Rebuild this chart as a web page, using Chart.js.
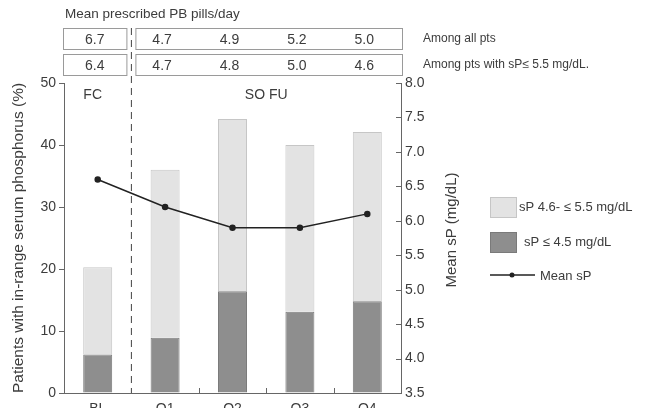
<!DOCTYPE html>
<html>
<head>
<meta charset="utf-8">
<script src="https://cdn.jsdelivr.net/npm/chart.js@4.4.1/dist/chart.umd.min.js"></script>
<style>
  body { margin: 0; background: #fff; }
  canvas { display: block; }
</style>
</head>
<body>
<canvas id="chart" width="646" height="408"></canvas>
<script>
// data
const periods = ["BL", "Q1", "Q2", "Q3", "Q4"];
const lowSP = [6.2, 8.9, 16.4, 13.1, 14.8];          // sP <= 4.5 mg/dL
const midSP = [14.1, 27.1, 27.8, 26.9, 27.3];        // sP 4.6 - <= 5.5 mg/dL (stacked on top)
const meanSP = [6.6, 6.2, 5.9, 5.9, 6.1];            // mg/dL, right axis
const pillsAll = [6.7, 4.7, 4.9, 5.2, 5.0];
const pillsInRange = [6.4, 4.7, 4.8, 5.0, 4.6];
const rowLabels = ["Among all pts", "Among pts with sP\u2264 5.5 mg/dL."];

const textColor = "#3c3c3c";
const axisColor = "#666";
const lightFill = "#e3e3e3";
const lightEdge = "#c6c6c6";
const darkFill = "#8e8e8e";
const darkEdge = "#7a7a7a";
const FONT = "'Liberation Sans', Arial, sans-serif";

Chart.defaults.font.family = FONT;
Chart.defaults.color = textColor;

const annotate = {
  id: "annotate",
  beforeDatasetsDraw(chart) {
    const ctx = chart.ctx;
    const area = chart.chartArea;
    const x = chart.scales.x;
    const splitX = (x.getPixelForValue(0) + x.getPixelForValue(1)) / 2;
    ctx.save();
    ctx.strokeStyle = "#444";
    ctx.lineWidth = 1;
    ctx.setLineDash([7, 5]);
    ctx.beginPath();
    ctx.moveTo(splitX, 28);
    ctx.lineTo(splitX, area.bottom);
    ctx.stroke();
    ctx.restore();
  },
  afterDraw(chart) {
    const ctx = chart.ctx;
    const area = chart.chartArea;
    const x = chart.scales.x;
    const y2 = chart.scales.y2;
    const splitX = (x.getPixelForValue(0) + x.getPixelForValue(1)) / 2;
    ctx.save();

    // right axis ticks point into the plot
    ctx.strokeStyle = axisColor;
    ctx.lineWidth = 1;
    y2.ticks.forEach(t => {
      const py = Math.round(y2.getPixelForValue(t.value)) + 0.5;
      ctx.beginPath();
      ctx.moveTo(area.right - 5, py);
      ctx.lineTo(area.right, py);
      ctx.stroke();
    });
    // small ticks between follow-up quarters
    for (let i = 1; i < periods.length - 1; i++) {
      const px = Math.round((x.getPixelForValue(i) + x.getPixelForValue(i + 1)) / 2) + 0.5;
      ctx.beginPath();
      ctx.moveTo(px, area.bottom);
      ctx.lineTo(px, area.bottom - 5);
      ctx.stroke();
    }

    // right axis title, reading upward
    ctx.fillStyle = textColor;
    ctx.font = "15px " + FONT;
    ctx.textAlign = "center";
    ctx.textBaseline = "middle";
    ctx.translate(452, 230);
    ctx.rotate(-Math.PI / 2);
    ctx.fillText("Mean sP (mg/dL)", 0, 0);
    ctx.setTransform(1, 0, 0, 1, 0, 0);

    // period labels inside the plot
    ctx.font = "14px " + FONT;
    ctx.fillText("FC", (area.left + splitX) / 2 - 5, 95);
    ctx.fillText("SO FU", (splitX + area.right) / 2, 95);

    // pill table above the plot
    ctx.textAlign = "left";
    ctx.font = "13.5px " + FONT;
    ctx.fillText("Mean prescribed PB pills/day", 65, 14);
    const rows = [pillsAll, pillsInRange];
    const rowTop = [28, 54];
    const rowH = 21;
    ctx.strokeStyle = "#9a9a9a";
    rows.forEach((vals, r) => {
      const top = rowTop[r] + 0.5;
      ctx.strokeRect(area.left - 0.5, top, splitX - 4 - area.left, rowH);
      ctx.strokeRect(splitX + 4.5, top, area.right + 1 - splitX - 4, rowH);
      ctx.font = "14px " + FONT;
      ctx.textAlign = "center";
      vals.forEach((v, i) => {
        ctx.fillText(v.toFixed(1), x.getPixelForValue(i) - 3, top + rowH / 2 + 1);
      });
      ctx.font = "12px " + FONT;
      ctx.textAlign = "left";
      ctx.fillText(rowLabels[r], 423, top + rowH / 2);
    });

    // legend
    const lx = 490;
    ctx.font = "13px " + FONT;
    ctx.fillStyle = lightFill;
    ctx.fillRect(lx, 197, 26, 20);
    ctx.strokeStyle = lightEdge;
    ctx.strokeRect(lx + 0.5, 197.5, 26, 20);
    ctx.fillStyle = darkFill;
    ctx.fillRect(lx, 232, 26, 20);
    ctx.strokeStyle = darkEdge;
    ctx.strokeRect(lx + 0.5, 232.5, 26, 20);
    ctx.strokeStyle = "#222";
    ctx.lineWidth = 1.3;
    ctx.beginPath();
    ctx.moveTo(lx, 275);
    ctx.lineTo(lx + 45, 275);
    ctx.stroke();
    ctx.fillStyle = "#222";
    ctx.beginPath();
    ctx.arc(lx + 22, 275, 2.5, 0, Math.PI * 2);
    ctx.fill();
    ctx.fillStyle = textColor;
    ctx.fillText(chart.data.datasets[2].label, 519, 207);
    ctx.fillText(chart.data.datasets[1].label, 524, 242);
    ctx.fillText(chart.data.datasets[0].label, 540, 276);
    ctx.restore();
  }
};

new Chart(document.getElementById("chart"), {
  type: "bar",
  data: {
    labels: periods,
    datasets: [
      {
        type: "line",
        label: "Mean sP",
        data: meanSP,
        yAxisID: "y2",
        borderColor: "#222",
        backgroundColor: "#222",
        borderWidth: 1.5,
        pointRadius: 2.5,
        tension: 0,
        order: 0,
      },
      {
        label: "sP \u2264 4.5 mg/dL",
        data: lowSP,
        yAxisID: "y",
        backgroundColor: darkFill,
        borderColor: darkEdge,
        borderWidth: 1,
        categoryPercentage: 1,
        barPercentage: 0.43,
        order: 1,
      },
      {
        label: "sP 4.6- \u2264 5.5 mg/dL",
        data: midSP,
        yAxisID: "y",
        backgroundColor: lightFill,
        borderColor: lightEdge,
        borderWidth: 1,
        categoryPercentage: 1,
        barPercentage: 0.43,
        order: 2,
      },
    ],
  },
  options: {
    responsive: false,
    animation: false,
    layout: { padding: { top: 83, right: 175, bottom: 0, left: 0 } },
    plugins: {
      legend: { display: false },
      tooltip: { enabled: false },
    },
    scales: {
      x: {
        stacked: true,
        grid: { display: false },
        border: { display: true, color: axisColor },
        ticks: { font: { size: 14 }, padding: 0, color: textColor },
        afterFit(scale) { scale.height = 15; },
      },
      y: {
        stacked: true,
        position: "left",
        min: 0,
        max: 50,
        ticks: { stepSize: 10, font: { size: 14 }, padding: 3, color: textColor },
        grid: { drawOnChartArea: false, drawTicks: true, tickLength: 5, color: axisColor },
        border: { display: true, color: axisColor },
        title: {
          display: true,
          text: "Patients with in-range serum phosphorus (%)",
          font: { size: 15.5 },
          padding: { top: 9, bottom: 0 },
          color: textColor,
        },
        afterFit(scale) { scale.width = 64; },
      },
      y2: {
        position: "right",
        min: 3.5,
        max: 8.0,
        ticks: {
          stepSize: 0.5,
          font: { size: 14 },
          padding: 4,
          color: textColor,
          callback: v => v.toFixed(1),
        },
        grid: { drawOnChartArea: false, drawTicks: false, tickLength: 0, color: axisColor },
        border: { display: true, color: axisColor },
        afterFit(scale) { scale.width = 70; },
      },
    },
  },
  plugins: [annotate],
});
</script>
</body>
</html>
